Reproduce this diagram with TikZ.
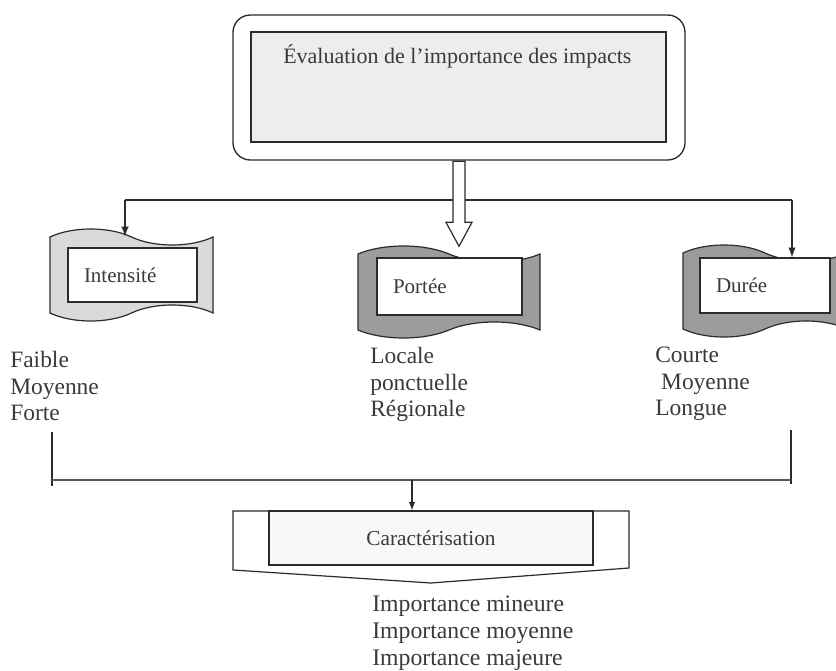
\documentclass[tikz,border=0pt]{standalone}
\usepackage{fontspec}
\setmainfont{Liberation Serif}
\usetikzlibrary{shapes.symbols, shapes.arrows, arrows, positioning}
\definecolor{ink}{HTML}{2B2B2B}
\definecolor{txt}{HTML}{3A3A3A}
\definecolor{lgray}{HTML}{DADADA}
\definecolor{dgray}{HTML}{9C9C9C}
\definecolor{pale}{HTML}{EDEDED}
\tikzstyle{frame} = [rectangle, rounded corners=13pt, draw=ink, line width=1pt, minimum width=339pt, minimum height=108.75pt]
\tikzstyle{panel} = [rectangle, draw=ink, line width=1pt, fill=pale, minimum width=311.25pt, minimum height=82.5pt]
\tikzstyle{ribbon} = [tape, draw=ink, line width=0.9pt, tape bend top=out and in, tape bend bottom=in and out, tape bend height=12pt, minimum height=69pt]
\tikzstyle{tag} = [rectangle, draw=ink, line width=0.9pt, fill=white, inner xsep=12pt, align=left, text=txt, font=\fontsize{15.75}{18}\selectfont]
\tikzstyle{values} = [align=left, anchor=north west, inner sep=0pt, text=txt, font=\fontsize{17.6}{19.9}\selectfont]
\tikzstyle{hollow} = [single arrow, draw=ink, line width=0.9pt, fill=white, minimum height=63.75pt, minimum width=18.75pt, single arrow head extend=5.25pt, single arrow tip angle=57, inner xsep=0pt, inner ysep=4.1pt]
\tikzstyle{cable} = [line width=1.5pt, draw=ink, ->, >=latex]
\tikzstyle{bus} = [line width=2pt, draw=ink]

\begin{document}
\begin{tikzpicture}[x=0.75pt, y=-0.75pt]
  \useasboundingbox (0,0) rectangle (836,671);
  \clip (0,0) rectangle (836,671);
  % evaluation box
  \node (evalOuter) [frame] at (459,87.5) {};
  \node (eval) [panel] at (458.5,87) {};
  \node (evalText) [anchor=base west, inner sep=0pt, text=txt, font=\fontsize{16.5}{19}\selectfont] at (283,63) {Évaluation de l’importance des impacts};
  % three criteria
  \node (intFlag) [ribbon, fill=lgray, minimum width=122.25pt] at (131.5,275) {};
  \node (porFlag) [ribbon, fill=dgray, minimum width=136.5pt] at (449,292) {};
  \node (durFlag) [ribbon, fill=dgray, minimum width=123pt] at (765,291) {};
  \node (intTag) [tag, minimum width=96.75pt, minimum height=40.5pt, text width=72.75pt] at (132.5,275) {Intensité};
  \node (porTag) [tag, minimum width=108.75pt, minimum height=42.75pt, text width=84.75pt] at (449.5,286.5) {Portée};
  \node (durTag) [tag, minimum width=97.5pt, minimum height=41.25pt, text width=73.5pt] at (765,285.5) {Durée};
  \node (intVals) [values] at (10,351) {Faible\\Moyenne\\Forte};
  \node (porVals) [values] at (370,347) {Locale\\ponctuelle\\Régionale};
  \node (durVals) [values] at (655,347) {Courte\\\ Moyenne\\Longue};
  % links from the top
  \coordinate (hubL) at (125,200);
  \coordinate (hubR) at (792,200);
  \draw [bus] (hubL) -- (hubR);
  \draw [cable] (hubL) -- (hubL |- intFlag.north);
  \draw [cable] (hubR) -- (hubR |- durTag.north);
  \node (thru) [hollow, rotate=-90, anchor=tail] at (evalOuter.south) {};
  % gathering
  \coordinate (lowL) at (52,480);
  \coordinate (lowR) at (791,480);
  \coordinate (join) at (412,480);
  \draw [line width=2pt, draw=ink] (52,432) -- (52,486);
  \draw [line width=2pt, draw=ink] (791,430) -- (791,484);
  \draw [line width=1pt, draw=ink!80] (lowL) -- (lowR);
  \draw [line width=0.9pt, draw=ink, fill=white] (233,511) -- (629,511) -- (629,568) -- (431,583) -- (233,570) -- cycle;
  \node (carac) [rectangle, draw=ink, line width=0.9pt, fill=pale!40, minimum width=243pt, minimum height=40.5pt, text=txt, font=\fontsize{16}{19}\selectfont] at (431,538) {Caractérisation};
  \draw [cable, line width=1.2pt] (join) -- (join |- carac.north);
  \node (caracVals) [values, font=\fontsize{17.8}{20.25}\selectfont] at (372,596) {Importance mineure\\Importance moyenne\\Importance majeure};
\end{tikzpicture}
\end{document}
